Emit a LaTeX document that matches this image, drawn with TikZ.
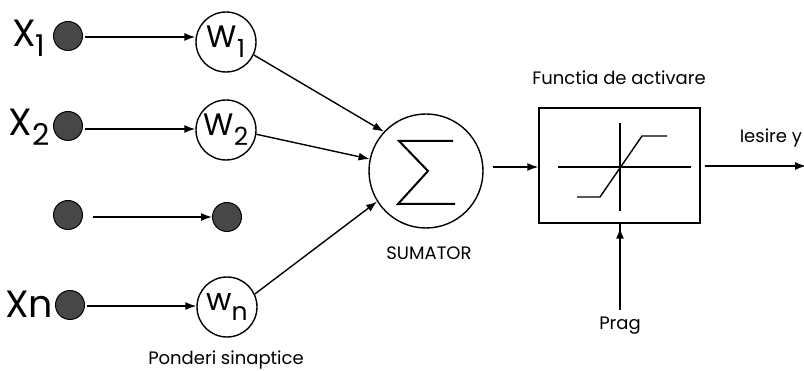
\documentclass[tikz,border=0pt]{standalone}
\usepackage{fontspec}
\setmainfont{Poppins}
\usetikzlibrary{arrows.meta}
\begin{document}
\begin{tikzpicture}[x=1pt,y=-1pt,line width=1.6pt,
  dot/.style={circle,draw=black,line width=1pt,fill=black!72,minimum size=29pt,inner sep=0pt},
  wcirc/.style={circle,draw,line width=1.4pt,minimum size=60pt,inner sep=0pt,font=\fontsize{31}{31}\selectfont},
  arr/.style={-{Latex[length=11pt,width=8pt]},line width=1.4pt},
  lbl/.style={font=\fontsize{18}{18}\selectfont,inner sep=0pt},
  big/.style={font=\fontsize{38}{38}\selectfont,inner sep=0pt}]
\useasboundingbox (0,0) rectangle (804,371);
% inputs
\node[dot] (d1) at (68,36) {};
\node[dot] (d2) at (68,126) {};
\node[dot] (d3) at (68,215) {};
\node[dot] (dn) at (70,305) {};
\node[big] (x1) at (29,38) {X\raisebox{-0.5ex}{\fontsize{30}{30}\selectfont 1}};
\node[big] (x2) at (29,127) {X\raisebox{-0.5ex}{\fontsize{30}{30}\selectfont 2}};
\node[big] (xn) at (29,304) {Xn};
% weights
\node[wcirc] (w1) at (226,42) {W\raisebox{-0.6ex}{\fontsize{25}{25}\selectfont 1}};
\node[wcirc] (w2) at (226,130) {W\raisebox{-0.6ex}{\fontsize{25}{25}\selectfont 2}};
\node[dot] (w3) at (227,217) {};
\node[wcirc] (wn) at (227,307) {w\raisebox{-0.6ex}{\fontsize{25}{25}\selectfont n}};
\node[lbl] (pond) at (226,360) {Ponderi sinaptice};
\draw[arr] (d1.east) ++(2,1) coordinate (a1) -- (w1.west |- a1);
\draw[arr] (d2.east) ++(2,3) coordinate (a2) -- (w2.west |- a2);
\draw[arr] (93,217) coordinate (a3) -- (w3.west);
\draw[arr] (dn.east) ++(2,1) coordinate (an) -- (wn.west |- an);
% summator
\node[circle,draw,line width=1.4pt,minimum size=114pt,inner sep=0pt] (sum) at (426,171) {};
\draw[line width=2pt] (453,141) -- (399,141) -- (428,171) -- (398,204) -- (455,204);
\node[lbl] (sumlbl) at (429,253) {SUMATOR};
\draw[arr] (w1.-25) -- (sum.137);
\draw[arr] (w2.-8) -- (sum.168);
\draw[arr] (wn.25) -- (sum.212);
% activation box
\node[draw,line width=1.4pt,minimum width=161pt,minimum height=115pt,inner sep=0pt] (box) at (619.5,165.5) {};
\node[lbl] (fa) at (619,78) {Functia de activare};
\draw[arr] (sum.east) ++(9,-4) coordinate (s1) -- (box.west |- s1);
\draw[line width=1.4pt] (558,167) -- (691,167);
\draw[line width=1.4pt] (620,123) -- (620,211);
\draw[line width=1.4pt] (577,197) -- (600,197) -- (642,136) -- (667,136);
% output
\coordinate (out) at (806,166);
\draw[arr] (box.east |- out) ++(4,0) -- (out);
\node[lbl,anchor=west] (ies) at (739,138) {Iesire y};
% threshold
\node[lbl] (prag) at (620,326) {Prag};
\draw[arr] (620,310) -- (box.south -| 620,0) ++(0,4);
\end{tikzpicture}
\end{document}
